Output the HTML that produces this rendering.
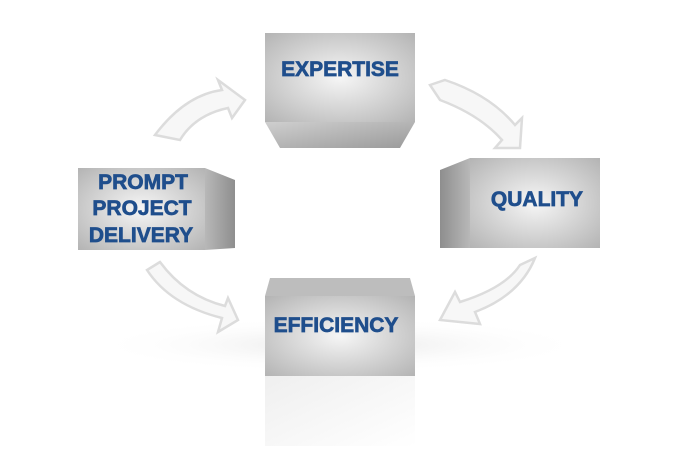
<!DOCTYPE html>
<html><head><style>
body{margin:0;background:#fff;width:687px;height:468px;overflow:hidden;font-family:"Liberation Sans",Arial,sans-serif}
</style></head><body>
<svg width="687" height="468" xmlns="http://www.w3.org/2000/svg">
<defs>
<radialGradient id="f" cx="0.5" cy="0.5" r="0.7"><stop offset="0" stop-color="#f6f6f6"/><stop offset="1" stop-color="#b4b4b4"/></radialGradient>
<linearGradient id="s" x1="0" x2="1"><stop offset="0" stop-color="#b8b8b8"/><stop offset="1" stop-color="#8e8e8e"/></linearGradient>
<linearGradient id="s2" x1="0" x2="1"><stop offset="0" stop-color="#8e8e8e"/><stop offset="1" stop-color="#b8b8b8"/></linearGradient>
<linearGradient id="b" y1="0" y2="1"><stop offset="0" stop-color="#cfcfcf"/><stop offset="1" stop-color="#9a9a9a"/></linearGradient>
<linearGradient id="r" y1="0" y2="1"><stop offset="0" stop-color="#efefef"/><stop offset="1" stop-color="#fff"/></linearGradient>
<radialGradient id="sh" cx="0.5" cy="0.5" r="0.5"><stop offset="0" stop-color="#e8e8e8"/><stop offset="1" stop-color="#fff" stop-opacity="0"/></radialGradient>
</defs>
<ellipse cx="340" cy="345" rx="250" ry="28" fill="url(#sh)"/>
<g fill="#f7f7f7" stroke="#dcdcdc" stroke-width="2.5">
<path d="M155 135 Q185 95 222 90 L218 80 L245 100 L232 118 L228 108 Q195 115 180 140 Z"/>
<path d="M430 85 L445 80 Q490 95 515 125 L522 118 L520 148 L495 148 L502 140 Q480 115 440 100 Z"/>
<path d="M520 265 L535 258 Q520 295 475 312 L480 324 L440 320 L455 292 L460 302 Q505 288 520 265 Z"/>
<path d="M160 262 L147 270 Q170 305 222 318 L218 332 L238 320 L228 298 L225 306 Q185 296 160 262 Z"/>
</g>
<rect x="265" y="376" width="150" height="70" fill="url(#r)"/>
<rect x="265" y="33" width="150" height="89" fill="url(#f)"/>
<path d="M265 122 H415 L400 148 H280 Z" fill="url(#b)"/>
<path d="M205 168 L235 180 V248 L205 250 Z" fill="url(#s)"/>
<rect x="78" y="168" width="127" height="82" fill="url(#f)"/>
<path d="M440 170 L470 158 V248 L440 248 Z" fill="url(#s2)"/>
<rect x="470" y="158" width="130" height="90" fill="url(#f)"/>
<path d="M270 278 H410 L415 296 H265 Z" fill="#bdbdbd"/>
<rect x="265" y="296" width="150" height="80" fill="url(#f)"/>
<g font-weight="bold" font-size="21" fill="#1f4e8c" stroke="#1f4e8c" stroke-width="0.7" text-anchor="middle">
<text x="340" y="76">EXPERTISE</text>
<text x="143" y="189">PROMPT</text><text x="142" y="215">PROJECT</text><text x="141" y="242">DELIVERY</text>
<text x="537" y="206">QUALITY</text>
<text x="336" y="332">EFFICIENCY</text>
</g>
</svg>
</body></html>
